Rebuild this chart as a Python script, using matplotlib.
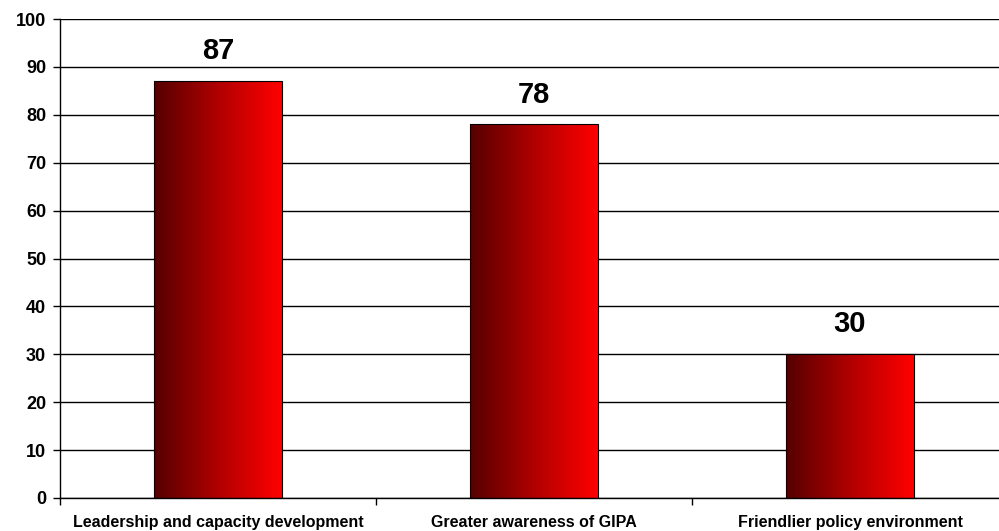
import numpy as np
import matplotlib.pyplot as plt
from matplotlib.colors import LinearSegmentedColormap

# datos del grafico
categorias = ["Leadership and capacity development",
              "Greater awareness of GIPA",
              "Friendlier policy environment"]
valores = [87, 78, 30]

plt.rcParams['font.family'] = ['Liberation Sans', 'DejaVu Sans']

fig = plt.figure(figsize=(9.99, 5.31), dpi=100)
ax = fig.add_axes([60 / 999, 33 / 531, 948 / 999, 479 / 531])

x = np.arange(len(categorias))
ancho = 0.405
degradado = LinearSegmentedColormap.from_list("rojo", ["#550000", "#b00000", "#ff0000"])
grad = np.linspace(0, 1, 256).reshape(1, -1)

barras = ax.bar(x, valores, width=ancho, color="none", edgecolor="black",
                linewidth=0.8, zorder=3)
for b in barras:
    x0, y0 = b.get_x(), b.get_y()
    im = ax.imshow(grad, cmap=degradado, aspect="auto", zorder=2,
                   extent=[x0, x0 + b.get_width(), y0, y0 + b.get_height()])
    im.set_clip_path(b)

for xi, v in zip(x, valores):
    ax.text(xi, v + 3.3, str(v), ha="center", va="bottom",
            fontsize=21, fontweight="bold")

ax.set_xlim(-0.5, len(categorias) - 0.5)
ax.set_ylim(0, 100)
ax.set_yticks(range(0, 101, 10))
ax.yaxis.grid(True, color="black", linewidth=1)
ax.set_axisbelow(True)

ax.set_xticks(np.arange(-0.5, len(categorias), 1))
ax.set_xticklabels([])
ax.set_xticks(x, minor=True)
ax.set_xticklabels(categorias, minor=True, fontsize=11.5, fontweight="bold")
ax.tick_params(axis="x", which="minor", length=0, pad=12)
ax.tick_params(axis="x", which="major", length=5, width=1)
ax.tick_params(axis="y", length=5, width=1, labelsize=13, pad=5)
for lab in ax.get_yticklabels():
    lab.set_fontweight("bold")

for s in ["top", "right"]:
    ax.spines[s].set_visible(False)
ax.spines["left"].set_linewidth(1)
ax.spines["bottom"].set_linewidth(1)

fig.savefig("out.png", dpi=100)
